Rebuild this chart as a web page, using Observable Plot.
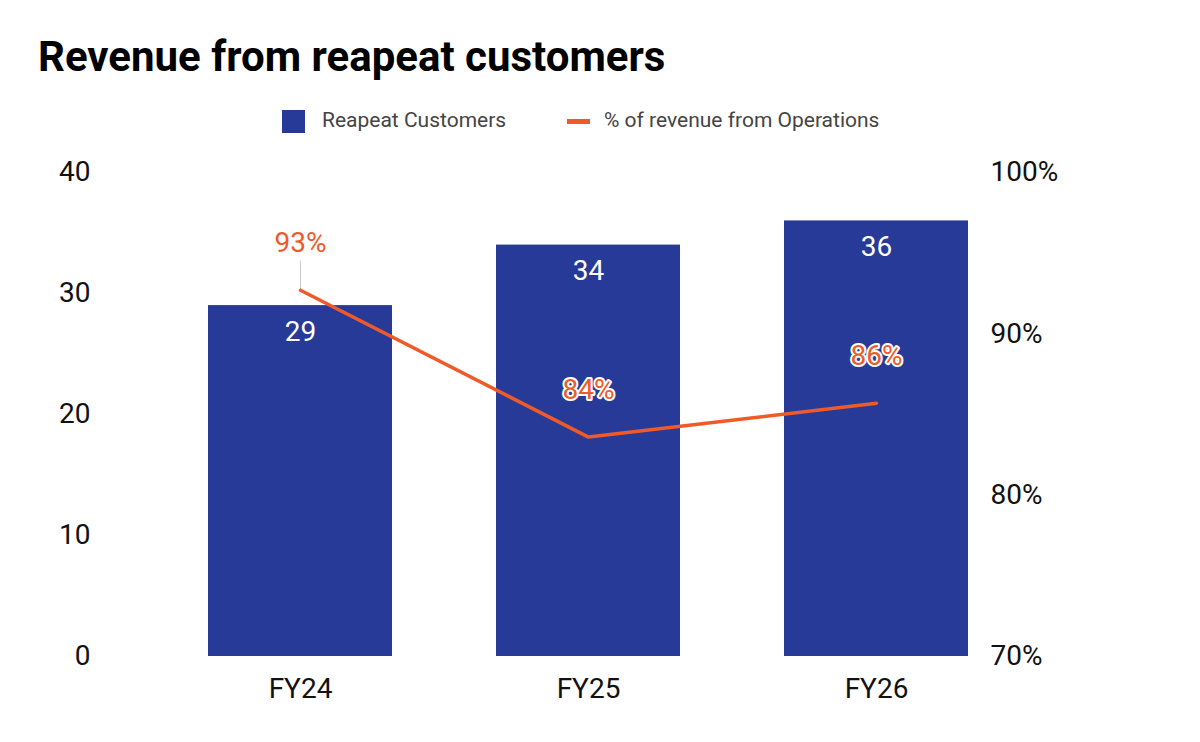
<!DOCTYPE html>
<html><head><meta charset="utf-8">
<script src="https://cdn.jsdelivr.net/npm/d3@7"></script>
<script src="https://cdn.jsdelivr.net/npm/@observablehq/plot@0.6"></script>
<style>
body{margin:0;background:#fff;font-family:Roboto,sans-serif;}
#title{position:absolute;left:38px;top:32px;font-size:42px;font-weight:700;color:#000;}
#legend{position:absolute;top:106px;left:0;width:1200px;font-size:21px;color:#444;}
#chart{position:absolute;top:140px;left:0;}
</style></head><body>
<div id="title">Revenue from reapeat customers</div>
<div id="legend">
<span style="position:absolute;left:282px;top:4px;width:23px;height:23px;background:#283a97"></span>
<span style="position:absolute;left:322px;top:2px">Reapeat Customers</span>
<span style="position:absolute;left:567px;top:13px;width:23px;height:5px;background:#f05a28"></span>
<span style="position:absolute;left:604px;top:2px">% of revenue from Operations</span>
</div>
<div id="chart"></div>
<script>
const years = ["FY24","FY25","FY26"];
const customers = [29,34,36];
const pct = [92.7,83.6,85.7];
const pctLabels = ["93%","84%","86%"];
const leftTicks = [0,10,20,30,40];
const rightTicks = [70,80,90,100];

const toY = p => (p-70)/30*40;
const bars = years.map((y,i)=>({year:y,v:customers[i]}));
const pts = years.map((y,i)=>({year:y,p:toY(pct[i]),label:pctLabels[i]}));
const orange="#f05a28", blue="#283a97";

const chart = Plot.plot({
  width:1200, height:602,
  marginLeft:156, marginRight:180, marginTop:32, marginBottom:86,
  style:{fontFamily:"Roboto, sans-serif", fontSize:"28px", color:"#111"},
  x:{domain:years, paddingInner:0.36, paddingOuter:0.18, label:null},
  y:{domain:[0,40], label:null},
  marks:[
    Plot.barY(bars,{x:"year",y:"v",fill:blue}),
    Plot.text(bars,{x:"year",y:"v",text:d=>String(d.v),dy:26,fill:"#fff",fontSize:28}),
    Plot.ruleX([pts[0]],{x:"year",y1:"p",y2:d=>d.p+2.4,stroke:"#ccc",strokeWidth:1}),
    Plot.line(pts,{x:"year",y:"p",stroke:orange,strokeWidth:3.5}),
    Plot.text(pts,{x:"year",y:"p",text:"label",dy:-47,fill:orange,stroke:"#fff",strokeWidth:4,fontSize:28}),
    Plot.axisY(leftTicks,{anchor:"left",tickSize:0,tickPadding:66,label:null,fontSize:28}),
    Plot.axisY(rightTicks.map(toY),{anchor:"right",tickSize:0,tickPadding:-30,textAnchor:"start",tickFormat:d=>Math.round(70+d*30/40)+"%",label:null,fontSize:28}),
    Plot.axisX({tickSize:0,tickPadding:22,label:null,fontSize:28})
  ]
});
document.getElementById("chart").append(chart);
</script>
</body></html>
